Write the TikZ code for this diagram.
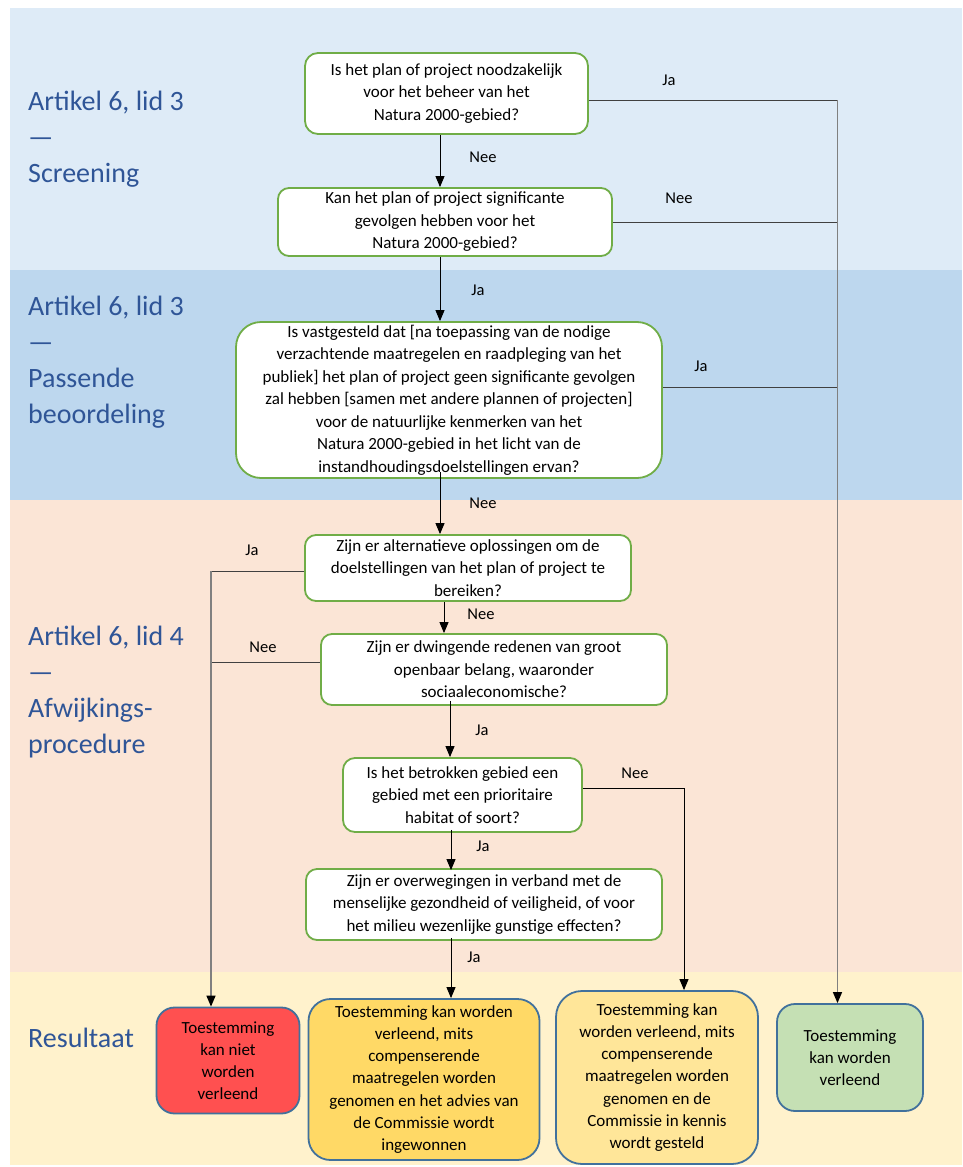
\documentclass[tikz,border=0pt]{standalone}
\usepackage{fontspec}
\setmainfont{Carlito}
\usetikzlibrary{arrows.meta}
\definecolor{bandA}{HTML}{DEEBF7}
\definecolor{bandB}{HTML}{BDD7EE}
\definecolor{bandC}{HTML}{FBE5D6}
\definecolor{bandD}{HTML}{FFF2CC}
\definecolor{qgreen}{HTML}{70AD47}
\definecolor{rblue}{HTML}{41719C}
\definecolor{ttl}{HTML}{2F5597}
\definecolor{rred}{HTML}{FF5050}
\definecolor{rorange}{HTML}{FFD966}
\definecolor{ryellow}{HTML}{FFE699}
\definecolor{rgreen}{HTML}{C5E0B4}
\definecolor{hline}{HTML}{404040}
\definecolor{vline}{HTML}{808080}
\tikzset{
  q/.style={draw=qgreen, line width=1.8pt, fill=white, align=center, inner sep=0pt,
    font=\fontsize{17}{22.5}\selectfont},
  res/.style={draw=rblue, line width=1.8pt, align=center, inner sep=0pt,
    font=\fontsize{17}{22.2}\selectfont},
  ttlstyle/.style={anchor=west, align=left, text=ttl, inner sep=0pt,
    font=\fontsize{28}{36}\selectfont},
  lbl/.style={font=\fontsize{16.5}{20}\selectfont, inner sep=0pt},
  arr/.style={-{Triangle[length=11pt,width=9pt]}, line width=0.9pt, draw=black},
  hl/.style={line width=1pt, draw=hline},
  vl/.style={line width=1.3pt, draw=vline},
  varr/.style={vl, -{Triangle[length=11pt,width=9pt,color=black]}},
}
\begin{document}
\begin{tikzpicture}[x=1pt,y=-1pt]
\useasboundingbox (0,0) rectangle (962,1167);
\fill[white] (0,0) rectangle (962,1167);
% bands
\fill[bandA] (10,8) rectangle (962,270);
\fill[bandB] (10,270) rectangle (962,500);
\fill[bandC] (10,500) rectangle (962,972);
\fill[bandD] (10,972) rectangle (962,1165);

% section titles
\node[ttlstyle] (t1) at (28,139) {Artikel 6, lid 3\\—\\Screening};
\node[ttlstyle] (t2) at (28,362) {Artikel 6, lid 3\\—\\Passende\\beoordeling};
\node[ttlstyle] (t3) at (28,692) {Artikel 6, lid 4\\—\\Afwijkings-\\procedure};
\node[ttlstyle] (t4) at (28,1038) {Resultaat};

% questions
\node[q, rounded corners=13pt, minimum width=283pt, minimum height=81pt] (Q1) at (446.5,93.5)
  {Is het plan of project noodzakelijk\\voor het beheer van het\\Natura 2000-gebied?};
\node[q, rounded corners=11pt, minimum width=334pt, minimum height=68pt] (Q2) at (445,222)
  {Kan het plan of project significante\\gevolgen hebben voor het\\Natura 2000-gebied?};
\node[q, rounded corners=25pt, minimum width=426pt, minimum height=156pt] (Q3) at (449,400)
  {Is vastgesteld dat [na toepassing van de nodige\\verzachtende maatregelen en raadpleging van het\\publiek] het plan of project geen significante gevolgen\\zal hebben [samen met andere plannen of projecten]\\voor de natuurlijke kenmerken van het\\Natura 2000-gebied in het licht van de\\instandhoudingsdoelstellingen ervan?};
\node[q, rounded corners=11pt, minimum width=326pt, minimum height=66pt] (Q4) at (468,568)
  {Zijn er alternatieve oplossingen om de\\doelstellingen van het plan of project te\\bereiken?};
\node[q, rounded corners=11pt, minimum width=346pt, minimum height=71pt] (Q5) at (494,669.5)
  {Zijn er dwingende redenen van groot\\openbaar belang, waaronder\\sociaaleconomische?};
\node[q, rounded corners=12pt, minimum width=239pt, minimum height=74pt] (Q6) at (462.5,795)
  {Is het betrokken gebied een\\gebied met een prioritaire\\habitat of soort?};
\node[q, rounded corners=11pt, minimum width=356pt, minimum height=71pt] (Q7) at (484,904.5)
  {Zijn er overwegingen in verband met de\\menselijke gezondheid of veiligheid, of voor\\het milieu wezenlijke gunstige effecten?};

% results
\node[res, fill=rred, rounded corners=18pt, minimum width=143pt, minimum height=106pt] (R1) at (228,1060.5)
  {Toestemming\\kan niet\\worden\\verleend};
\node[res, fill=rorange, rounded corners=22pt, minimum width=231pt, minimum height=161pt] (R2) at (424,1079.5)
  {Toestemming kan worden\\verleend, mits\\compenserende\\maatregelen worden\\genomen en het advies van\\de Commissie wordt\\ingewonnen};
\node[res, fill=ryellow, rounded corners=26pt, minimum width=202pt, minimum height=173pt] (R3) at (657,1077.5)
  {Toestemming kan\\worden verleend, mits\\compenserende\\maatregelen worden\\genomen en de\\Commissie in kennis\\wordt gesteld};
\node[res, fill=rgreen, rounded corners=18pt, minimum width=146pt, minimum height=107pt] (R4) at (850,1057.5)
  {Toestemming\\kan worden\\verleend};

% x positions of connectors
\coordinate (xa) at (440,0);
\coordinate (xb) at (444,0);
\coordinate (xc) at (450,0);
\coordinate (xd) at (451,0);
\coordinate (xL) at (211,0);
\coordinate (xR) at (837.5,0);
\coordinate (xN) at (684,0);
\coordinate (yQ1) at (0,100);
\coordinate (yQ3) at (0,387);
\coordinate (yQ4) at (0,571);
\coordinate (yQ5) at (0,662);
\coordinate (yQ6) at (0,788);

% main chain
\draw[arr] (Q1.south -| xa) -- (Q2.north -| xa);
\draw[arr] (Q2.south -| xa) -- (Q3.north -| xa);
\draw[arr] ([yshift=7pt]Q3.south -| xa) -- (Q4.north -| xa);
\draw[arr] (Q4.south -| xb) -- (Q5.north -| xb);
\draw[arr] ([yshift=5pt]Q5.south -| xc) -- (Q6.north -| xc);
\draw[arr] ([yshift=3pt]Q6.south -| xd) -- ([yshift=-2pt]Q7.north -| xd);
\draw[arr] ([yshift=3pt]Q7.south -| xd) -- (R2.north -| xd);

% right branch
\coordinate (rTop) at (yQ1 -| xR);
\draw[hl] (Q1.east |- yQ1) -- (rTop);
\draw[hl] (Q2.east) -- (Q2.east -| xR);
\draw[hl] (Q3.east |- yQ3) -- (yQ3 -| xR);
\draw[varr] (rTop) -- (R4.north -| xR);

% left branch
\coordinate (lTop) at (yQ4 -| xL);
\draw[hl] (Q4.west |- yQ4) -- (lTop);
\draw[hl] (Q5.west |- yQ5) -- (yQ5 -| xL);
\draw[varr] (lTop) -- (R1.north -| xL);

% Q6 nee branch
\coordinate (nTop) at (yQ6 -| xN);
\draw[arr, line width=1pt] (Q6.east |- yQ6) -- (nTop) -- (R3.north -| xN);

% labels
\node[lbl] (l1) at (669,80) {Ja};
\node[lbl] (l2) at (483,157) {Nee};
\node[lbl] (l3) at (679,198) {Nee};
\node[lbl] (l4) at (478,290) {Ja};
\node[lbl] (l5) at (701,366) {Ja};
\node[lbl] (l6) at (483,503) {Nee};
\node[lbl] (l7) at (252,550) {Ja};
\node[lbl] (l8) at (481,614) {Nee};
\node[lbl] (l9) at (263,647) {Nee};
\node[lbl] (l10) at (482,730) {Ja};
\node[lbl] (l11) at (635,773) {Nee};
\node[lbl] (l12) at (483,846) {Ja};
\node[lbl] (l13) at (474,957) {Ja};
\end{tikzpicture}
\end{document}
